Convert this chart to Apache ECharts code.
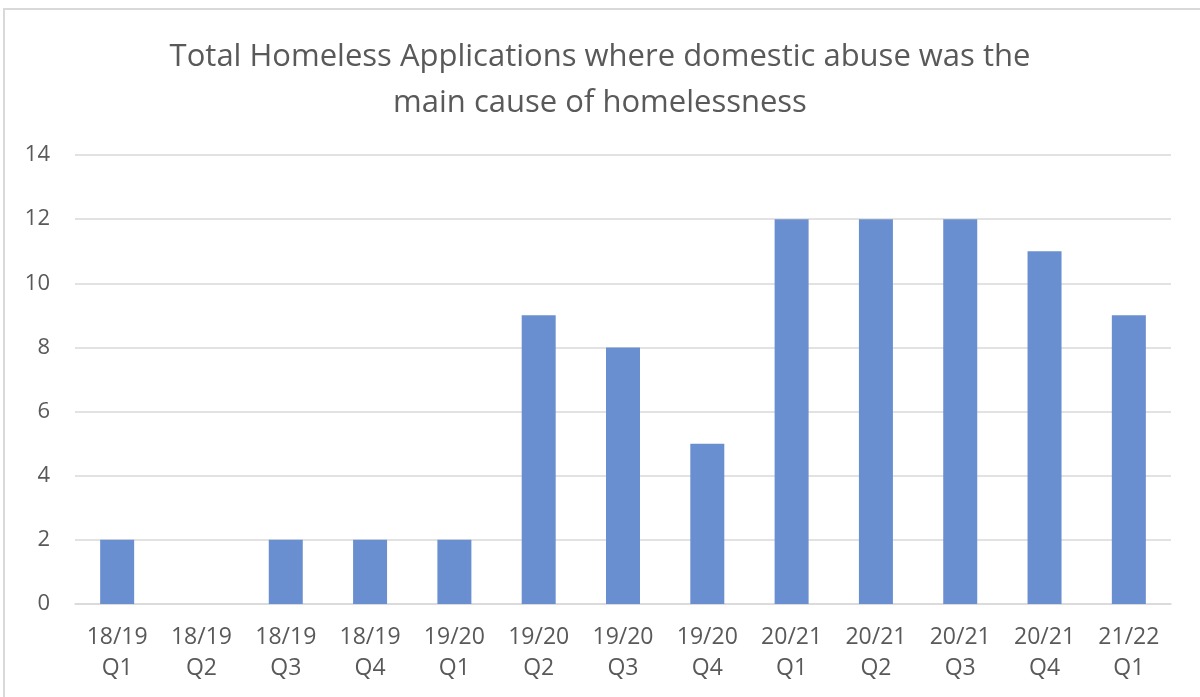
<!DOCTYPE html>
<html>
<head>
<meta charset="utf-8">
<script src="https://cdn.jsdelivr.net/npm/echarts@6/dist/echarts.min.js"></script>
<style>
  html, body { margin: 0; padding: 0; background: #fff; }
  #chart { width: 1200px; height: 697px; }
</style>
</head>
<body>
<div id="chart"></div>
<script>
// Quarterly homeless applications citing domestic abuse as main cause
const quarters = ['18/19\nQ1', '18/19\nQ2', '18/19\nQ3', '18/19\nQ4', '19/20\nQ1', '19/20\nQ2', '19/20\nQ3', '19/20\nQ4', '20/21\nQ1', '20/21\nQ2', '20/21\nQ3', '20/21\nQ4', '21/22\nQ1'];
const applications = [2, 0, 2, 2, 2, 9, 8, 5, 12, 12, 12, 11, 9];
const yTicks = { min: 0, max: 14, interval: 2 };

const textColor = '#595959';
const fontFamily = 'Open Sans, Noto Sans, sans-serif';

const chart = echarts.init(document.getElementById('chart'));
chart.setOption({
  animation: false,
  title: {
    text: 'Total Homeless Applications where domestic abuse was the\nmain cause of homelessness',
    left: 'center',
    top: 29,
    textStyle: {
      color: textColor,
      fontFamily: fontFamily,
      fontSize: 31,
      fontWeight: 'normal',
      lineHeight: 46
    }
  },
  graphic: [{
    type: 'rect',
    shape: { x: 4, y: 9, width: 1220, height: 720 },
    style: { fill: 'none', stroke: '#d9d9d9', lineWidth: 2 },
    silent: true
  }],
  grid: { left: 75, right: 29, top: 155, bottom: 93 },
  xAxis: {
    type: 'category',
    data: quarters,
    axisLine: { lineStyle: { color: '#d9d9d9', width: 1.5 } },
    axisTick: { show: false },
    axisLabel: {
      color: textColor,
      fontFamily: fontFamily,
      fontSize: 23,
      lineHeight: 31,
      margin: 18,
      interval: 0
    }
  },
  yAxis: {
    type: 'value',
    min: yTicks.min,
    max: yTicks.max,
    interval: yTicks.interval,
    axisLine: { show: false },
    axisTick: { show: false },
    splitLine: { lineStyle: { color: '#d9d9d9', width: 1.5 } },
    axisLabel: {
      color: textColor,
      fontFamily: fontFamily,
      fontSize: 22,
      margin: 25
    }
  },
  series: [{
    type: 'bar',
    data: applications,
    barWidth: 34,
    itemStyle: { color: '#6a8fd0' }
  }]
});
</script>
</body>
</html>
